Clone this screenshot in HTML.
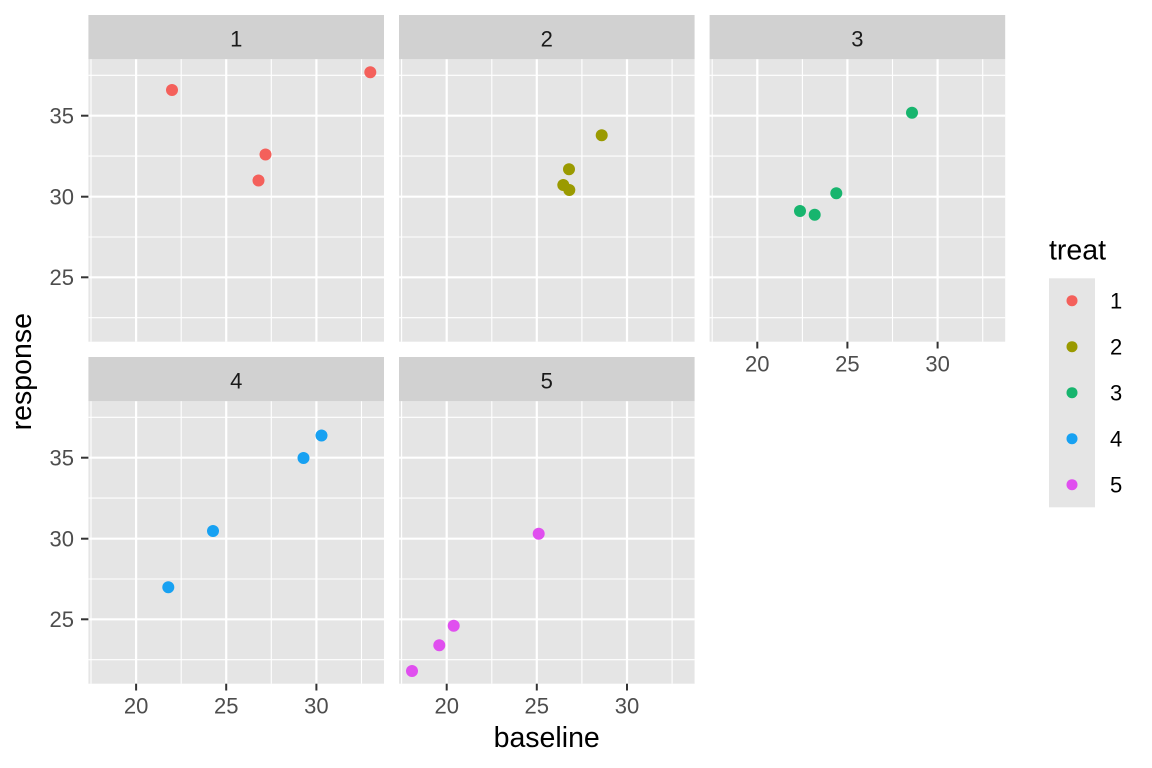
<!DOCTYPE html>
<html>
<head>
<meta charset="utf-8">
<style>
html,body{margin:0;padding:0;background:#fff;}
svg{display:block;}
text{font-family:"Liberation Sans", Arial, sans-serif;}
</style>
</head>
<body>
<svg width="1152" height="768" viewBox="0 0 1152 768" xmlns="http://www.w3.org/2000/svg">
<defs>
  <g id="pg">
    <rect x="0" y="0" width="295.6" height="282.4" fill="#E5E5E5"/>
    <g stroke="#FFFFFF" stroke-width="1.1">
      <line x1="2.6" y1="0" x2="2.6" y2="282.4"/>
      <line x1="92.8" y1="0" x2="92.8" y2="282.4"/>
      <line x1="182.9" y1="0" x2="182.9" y2="282.4"/>
      <line x1="273.1" y1="0" x2="273.1" y2="282.4"/>
      <line x1="0" y1="16.0" x2="295.6" y2="16.0"/>
      <line x1="0" y1="96.8" x2="295.6" y2="96.8"/>
      <line x1="0" y1="177.7" x2="295.6" y2="177.7"/>
      <line x1="0" y1="258.4" x2="295.6" y2="258.4"/>
    </g>
    <g stroke="#FFFFFF" stroke-width="2.2">
      <line x1="47.7" y1="0" x2="47.7" y2="282.4"/>
      <line x1="137.8" y1="0" x2="137.8" y2="282.4"/>
      <line x1="228.0" y1="0" x2="228.0" y2="282.4"/>
      <line x1="0" y1="56.4" x2="295.6" y2="56.4"/>
      <line x1="0" y1="137.4" x2="295.6" y2="137.4"/>
      <line x1="0" y1="218.0" x2="295.6" y2="218.0"/>
    </g>
  </g>
</defs>

<!-- Strips -->
<g fill="#D1D1D1">
  <rect x="88.4" y="15" width="295.6" height="44.3"/>
  <rect x="399.0" y="15" width="295.6" height="44.3"/>
  <rect x="709.6" y="15" width="295.6" height="44.3"/>
  <rect x="88.4" y="357" width="295.6" height="44.3"/>
  <rect x="399.0" y="357" width="295.6" height="44.3"/>
</g>
<g fill="#1A1A1A" font-size="22" text-anchor="middle">
  <text x="236.2" y="46.7">1</text>
  <text x="546.8" y="46.7">2</text>
  <text x="857.4" y="46.7">3</text>
  <text x="236.2" y="388.7">4</text>
  <text x="546.8" y="388.7">5</text>
</g>

<!-- Panels -->
<use href="#pg" x="88.4" y="59.3"/>
<use href="#pg" x="399.0" y="59.3"/>
<use href="#pg" x="709.6" y="59.3"/>
<use href="#pg" x="88.4" y="401.3"/>
<use href="#pg" x="399.0" y="401.3"/>

<!-- Points -->
<g fill="#F4605B">
  <circle cx="172" cy="90" r="6"/>
  <circle cx="265.5" cy="154.5" r="6"/>
  <circle cx="258.5" cy="180.5" r="6"/>
  <circle cx="370.3" cy="72.3" r="6"/>
</g>
<g fill="#9A9A00">
  <circle cx="601.7" cy="135.3" r="6"/>
  <circle cx="569" cy="169.3" r="6"/>
  <circle cx="563.3" cy="185" r="6"/>
  <circle cx="569.3" cy="190" r="6"/>
</g>
<g fill="#17B56E">
  <circle cx="912" cy="112.7" r="6"/>
  <circle cx="836.3" cy="193.3" r="6"/>
  <circle cx="800" cy="211" r="6"/>
  <circle cx="814.7" cy="214.7" r="6"/>
</g>
<g fill="#17A1F2">
  <circle cx="168.3" cy="587.3" r="6"/>
  <circle cx="213" cy="531" r="6"/>
  <circle cx="303.5" cy="458" r="6"/>
  <circle cx="321.5" cy="435.5" r="6"/>
</g>
<g fill="#E04FEF">
  <circle cx="412" cy="671" r="6"/>
  <circle cx="439.3" cy="645.3" r="6"/>
  <circle cx="453.7" cy="625.7" r="6"/>
  <circle cx="538.7" cy="533.7" r="6"/>
</g>

<!-- Y axis ticks -->
<g stroke="#333333" stroke-width="2">
  <line x1="81" y1="115.7" x2="88.4" y2="115.7"/>
  <line x1="81" y1="196.7" x2="88.4" y2="196.7"/>
  <line x1="81" y1="277.3" x2="88.4" y2="277.3"/>
  <line x1="81" y1="457.7" x2="88.4" y2="457.7"/>
  <line x1="81" y1="538.7" x2="88.4" y2="538.7"/>
  <line x1="81" y1="619.3" x2="88.4" y2="619.3"/>
</g>
<g fill="#4D4D4D" font-size="22" text-anchor="end">
  <text x="74" y="123.6">35</text>
  <text x="74" y="204.6">30</text>
  <text x="74" y="285.2">25</text>
  <text x="74" y="465.6">35</text>
  <text x="74" y="546.6">30</text>
  <text x="74" y="627.2">25</text>
</g>

<!-- X axis ticks -->
<g stroke="#333333" stroke-width="2">
  <line x1="757.3" y1="341.7" x2="757.3" y2="348.5"/>
  <line x1="847.4" y1="341.7" x2="847.4" y2="348.5"/>
  <line x1="937.6" y1="341.7" x2="937.6" y2="348.5"/>
  <line x1="136.1" y1="683.7" x2="136.1" y2="690.5"/>
  <line x1="226.2" y1="683.7" x2="226.2" y2="690.5"/>
  <line x1="316.4" y1="683.7" x2="316.4" y2="690.5"/>
  <line x1="446.7" y1="683.7" x2="446.7" y2="690.5"/>
  <line x1="536.8" y1="683.7" x2="536.8" y2="690.5"/>
  <line x1="627.0" y1="683.7" x2="627.0" y2="690.5"/>
</g>
<g fill="#4D4D4D" font-size="22" text-anchor="middle">
  <text x="757.3" y="371.7">20</text>
  <text x="847.4" y="371.7">25</text>
  <text x="937.6" y="371.7">30</text>
  <text x="136.1" y="713.7">20</text>
  <text x="226.2" y="713.7">25</text>
  <text x="316.4" y="713.7">30</text>
  <text x="446.7" y="713.7">20</text>
  <text x="536.8" y="713.7">25</text>
  <text x="627.0" y="713.7">30</text>
</g>

<!-- Axis titles -->
<text x="546.7" y="747" font-size="28.5" text-anchor="middle" fill="#000">baseline</text>
<text transform="translate(31,371.7) rotate(-90)" font-size="28.5" text-anchor="middle" fill="#000">response</text>

<!-- Legend -->
<text x="1049" y="259.3" font-size="28.5" fill="#000">treat</text>
<rect x="1049" y="278.3" width="46" height="229" fill="#E5E5E5"/>
<circle cx="1072" cy="300.7" r="5.5" fill="#F4605B"/>
<circle cx="1072" cy="346.7" r="5.5" fill="#9A9A00"/>
<circle cx="1072" cy="392.7" r="5.5" fill="#17B56E"/>
<circle cx="1072" cy="438.7" r="5.5" fill="#17A1F2"/>
<circle cx="1072" cy="484.7" r="5.5" fill="#E04FEF"/>
<g fill="#000" font-size="22">
  <text x="1110" y="308.6">1</text>
  <text x="1110" y="354.6">2</text>
  <text x="1110" y="400.6">3</text>
  <text x="1110" y="446.6">4</text>
  <text x="1110" y="492.6">5</text>
</g>
</svg>
</body>
</html>
